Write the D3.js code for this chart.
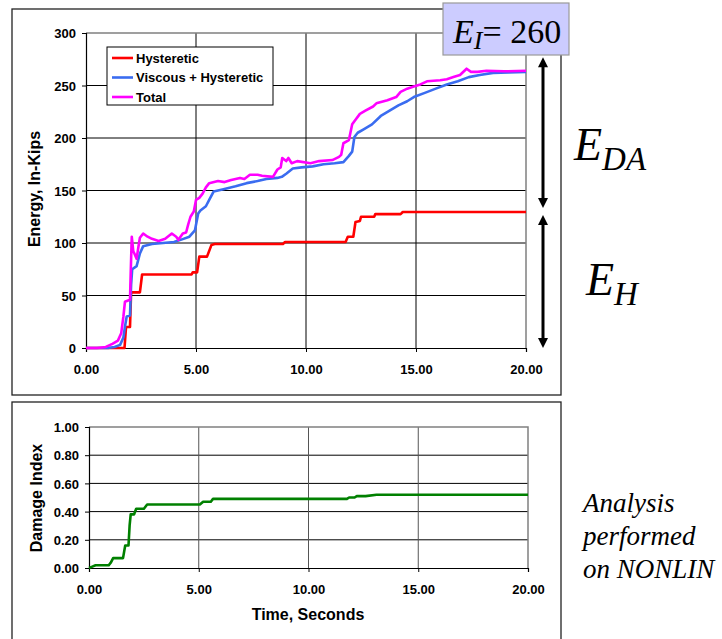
<!DOCTYPE html>
<html>
<head>
<meta charset="utf-8">
<script src="https://cdn.jsdelivr.net/npm/d3@7"></script>
<style>
body { margin: 0; background: #fff; }
svg { display: block; }
.tick text { font-family: "Liberation Sans", Arial, sans-serif; font-weight: bold; font-size: 13px; fill: #000; }
.axtitle { font-family: "Liberation Sans", Arial, sans-serif; font-weight: bold; font-size: 16px; fill: #000; }
.leg { font-family: "Liberation Sans", Arial, sans-serif; font-weight: bold; font-size: 13px; fill: #000; }
text.times, text.times tspan { font-family: "Liberation Serif", "DejaVu Serif", "Times New Roman", Times, serif; fill: #000; }
</style>
</head>
<body>
<div class="content"></div>
<script>
// energy time histories, [seconds, in-kips]
var hysteretic = [[0,0],[1.75,0],[1.82,20],[2.0,20],[2.05,53],[2.45,53],[2.55,70],[4.8,70],[4.85,72],[5.05,72],[5.15,87],[5.5,87],[5.7,98],[5.85,99],[8.95,99],[9.05,101],[11.8,101],[11.9,106],[12.15,106],[12.25,120],[12.45,121],[12.5,125],[13.1,125],[13.15,127.5],[14.3,127.5],[14.4,129.5],[20,129.5]];
var viscous = [[0,0],[1.0,0],[1.3,1],[1.55,3],[1.7,10],[1.77,20],[1.85,30],[2.0,31],[2.05,60],[2.1,75],[2.3,78],[2.45,90],[2.6,97],[3.0,99],[3.5,100],[4.0,101],[4.3,103],[4.7,106],[4.95,112],[5.1,128],[5.2,131],[5.45,135],[5.6,141],[5.8,149],[6.2,151],[6.8,154],[7.3,157],[7.8,159],[8.2,161],[8.7,162],[8.9,163],[9.1,166],[9.4,171],[9.8,172],[10.3,173],[10.8,175],[11.3,176],[11.7,177],[11.95,183],[12.1,187],[12.2,201],[12.35,205],[12.6,208],[13.0,213],[13.4,221],[13.8,226],[14.2,231],[14.6,235],[14.9,239],[15.4,243],[15.9,247],[16.4,251],[16.9,254],[17.4,258],[17.9,260],[18.5,262],[19.2,262.5],[20,263]];
var total = [[0,0],[0.5,0],[0.9,1],[1.2,4],[1.45,7],[1.6,14],[1.7,30],[1.77,44],[2.0,46],[2.03,70],[2.08,106],[2.15,92],[2.2,90],[2.3,85],[2.38,96],[2.45,105],[2.6,109],[2.8,106],[3.0,104],[3.3,102],[3.6,104],[3.9,109],[4.1,106],[4.2,103],[4.4,109],[4.55,110],[4.65,118],[4.75,125],[4.9,130],[5.0,141],[5.15,143],[5.3,147],[5.45,153],[5.6,157],[6.0,159],[6.3,158],[6.6,160],[7.0,162],[7.2,161],[7.45,165],[7.8,165],[8.0,164],[8.5,163],[8.7,170],[8.85,172],[8.92,181],[9.1,178],[9.2,181],[9.35,176],[9.6,178],[10.2,176],[10.6,178],[11.2,179],[11.5,182],[11.6,184],[11.7,195],[11.95,198],[12.1,213],[12.2,216],[12.45,223],[12.7,226],[13.05,230],[13.2,233],[13.7,236],[14.1,239],[14.3,244],[14.6,247],[14.9,249],[15.2,251],[15.5,254],[16.1,255],[16.4,256],[16.7,258],[17.0,260],[17.3,266],[17.5,263],[17.8,263],[18.2,264],[19,263.5],[20,264]];
// damage index history
var damage = [[0,0],[0.15,0.01],[0.3,0.02],[0.9,0.02],[1.0,0.04],[1.1,0.07],[1.55,0.07],[1.65,0.16],[1.8,0.16],[1.85,0.3],[1.9,0.38],[2.05,0.38],[2.15,0.42],[2.5,0.42],[2.65,0.45],[5.05,0.45],[5.2,0.47],[5.55,0.47],[5.65,0.49],[11.75,0.49],[11.85,0.5],[12.1,0.5],[12.2,0.51],[12.6,0.51],[13.1,0.52],[20,0.52]];

var seriesNames = ["Hysteretic", "Viscous + Hysteretic", "Total"];
var seriesColors = ["#ff0000", "#3a6cf0", "#ff00ff"];
var timeTicks = [0, 5, 10, 15, 20];
var energyTicks = [0, 50, 100, 150, 200, 250, 300];
var damageTicks = [0, 0.2, 0.4, 0.6, 0.8, 1.0];
var inputEnergy = 260;
var noteLines = ["Analysis", "performed", "on NONLIN"];

var size = {width: 722, height: 639};
var svg = d3.select('.content').append('svg')
    .attr('width', size.width)
    .attr('height', size.height);

// outer chart frames
svg.append('rect').attr('x', 12).attr('y', 9).attr('width', 549).attr('height', 386)
    .attr('fill', 'none').attr('stroke', '#222').attr('stroke-width', 1.3);
svg.append('rect').attr('x', 12).attr('y', 402).attr('width', 549).attr('height', 250)
    .attr('fill', 'none').attr('stroke', '#222').attr('stroke-width', 1.3);

function drawPanel(box, yDomain, yTicks, yFmt, vgridColor) {
    var x = d3.scaleLinear().domain([0, 20]).range([box.left, box.right]);
    var y = d3.scaleLinear().domain(yDomain).range([box.bottom, box.top]);
    var g = svg.append('g');
    // gridlines
    g.selectAll('line.hgrid').data(yTicks.slice(1, yTicks.length - 1)).enter().append('line')
        .attr('x1', box.left).attr('x2', box.right)
        .attr('y1', function(d) { return y(d); }).attr('y2', function(d) { return y(d); })
        .attr('stroke', '#000').attr('stroke-width', 1);
    g.selectAll('line.vgrid').data(timeTicks.slice(1, timeTicks.length - 1)).enter().append('line')
        .attr('y1', box.top).attr('y2', box.bottom)
        .attr('x1', function(d) { return x(d); }).attr('x2', function(d) { return x(d); })
        .attr('stroke', vgridColor).attr('stroke-width', 1);
    // plot area border (top, right)
    g.append('path')
        .attr('d', 'M' + box.left + ',' + box.top + 'H' + box.right + 'V' + box.bottom)
        .attr('fill', 'none').attr('stroke', '#808080').attr('stroke-width', 1.5);
    var xAxis = g.append('g').attr('transform', 'translate(0,' + box.bottom + ')')
        .call(d3.axisBottom(x).tickValues(timeTicks).tickSize(4).tickFormat(d3.format('.2f')));
    xAxis.selectAll('text').attr('dy', '1.45em');
    var yAxis = g.append('g').attr('transform', 'translate(' + box.left + ',0)')
        .call(d3.axisLeft(y).tickValues(yTicks).tickSize(4).tickFormat(yFmt));
    yAxis.selectAll('text').attr('x', -10).attr('dy', '0.36em');
    g.selectAll('.domain').attr('stroke', '#000').attr('stroke-width', 1.2);
    g.selectAll('.tick line').attr('stroke', '#000');
    return {x: x, y: y, g: g};
}

// ---- top panel: energy ----
var energyPanel = drawPanel({left: 86, right: 526, top: 33, bottom: 348}, [0, 300], energyTicks, d3.format('d'), '#000');
var line = d3.line()
    .x(function(d) { return energyPanel.x(d[0]); })
    .y(function(d) { return energyPanel.y(d[1]); });
[hysteretic, viscous, total].forEach(function(s, i) {
    energyPanel.g.append('path').datum(s).attr('d', line)
        .attr('fill', 'none').attr('stroke', seriesColors[i]).attr('stroke-width', 2.6)
        .attr('stroke-linejoin', 'round');
});
svg.append('text').attr('class', 'axtitle')
    .attr('transform', 'translate(40,189) rotate(-90)')
    .attr('text-anchor', 'middle').text('Energy, In-Kips');

// legend
var leg = svg.append('g').attr('transform', 'translate(107,47)');
leg.append('rect').attr('width', 166).attr('height', 58)
    .attr('fill', '#fff').attr('stroke', '#000').attr('stroke-width', 1);
seriesNames.forEach(function(n, i) {
    leg.append('line').attr('x1', 5).attr('x2', 26)
        .attr('y1', 11 + i * 19.5).attr('y2', 11 + i * 19.5)
        .attr('stroke', seriesColors[i]).attr('stroke-width', 2.6);
    leg.append('text').attr('class', 'leg').attr('x', 29).attr('y', 15.5 + i * 19.5).text(n);
});

// ---- bottom panel: damage index ----
var damagePanel = drawPanel({left: 89, right: 528, top: 427, bottom: 568}, [0, 1], damageTicks, d3.format('.2f'), '#555');
var dline = d3.line()
    .x(function(d) { return damagePanel.x(d[0]); })
    .y(function(d) { return damagePanel.y(d[1]); });
damagePanel.g.append('path').datum(damage).attr('d', dline)
    .attr('fill', 'none').attr('stroke', '#008000').attr('stroke-width', 2.6)
    .attr('stroke-linejoin', 'round');
svg.append('text').attr('class', 'axtitle')
    .attr('transform', 'translate(42,498) rotate(-90)')
    .attr('text-anchor', 'middle').text('Damage Index');
svg.append('text').attr('class', 'axtitle')
    .attr('x', 308).attr('y', 620).attr('text-anchor', 'middle').text('Time, Seconds');

// ---- energy breakdown arrows ----
var ehTop = energyPanel.y(d3.max(hysteretic, function(d) { return d[1]; }));
var eiTop = energyPanel.y(inputEnergy + 15);
function arrow(x, y1, y2) {
    var h = 10, w = 5;
    svg.append('line').attr('x1', x).attr('x2', x).attr('y1', y1 + h - 1).attr('y2', y2 - h + 1)
        .attr('stroke', '#000').attr('stroke-width', 3);
    svg.append('path').attr('d', 'M' + x + ',' + y1 + 'L' + (x - w) + ',' + (y1 + h) + 'L' + (x + w) + ',' + (y1 + h) + 'Z').attr('fill', '#000');
    svg.append('path').attr('d', 'M' + x + ',' + y2 + 'L' + (x - w) + ',' + (y2 - h) + 'L' + (x + w) + ',' + (y2 - h) + 'Z').attr('fill', '#000');
}
arrow(543, eiTop - 2, ehTop - 4);
arrow(543, ehTop + 3, energyPanel.y(0));

function serifText(x, y, size) {
    return svg.append('text').attr('class', 'times').attr('x', x).attr('y', y)
        .style('font-family', '"Liberation Serif", "DejaVu Serif", serif')
        .style('font-size', size + 'px');
}

var eda = serifText(574, 160, 46).style('font-style', 'italic');
eda.append('tspan').text('E');
eda.append('tspan').attr('dy', 10).style('font-size', '33px').text('DA');

var eh = serifText(586, 295, 46).style('font-style', 'italic');
eh.append('tspan').text('E');
eh.append('tspan').attr('dy', 10).style('font-size', '33px').text('H');

// input energy box
svg.append('rect').attr('x', 443).attr('y', 3).attr('width', 126).attr('height', 52)
    .attr('fill', '#ccccff').attr('stroke', '#999').attr('stroke-width', 1.2);
var ei = serifText(453, 43, 34);
ei.append('tspan').style('font-style', 'italic').text('E');
ei.append('tspan').attr('dy', 6).style('font-style', 'italic').style('font-size', '26px').text('I');
ei.append('tspan').attr('dy', -6).text('= ' + inputEnergy);

// note
var note = serifText(583, 512, 27).style('font-style', 'italic');
noteLines.forEach(function(t, i) {
    note.append('tspan').attr('x', 583).attr('y', 512 + i * 33).text(t);
});
</script>
</body>
</html>
